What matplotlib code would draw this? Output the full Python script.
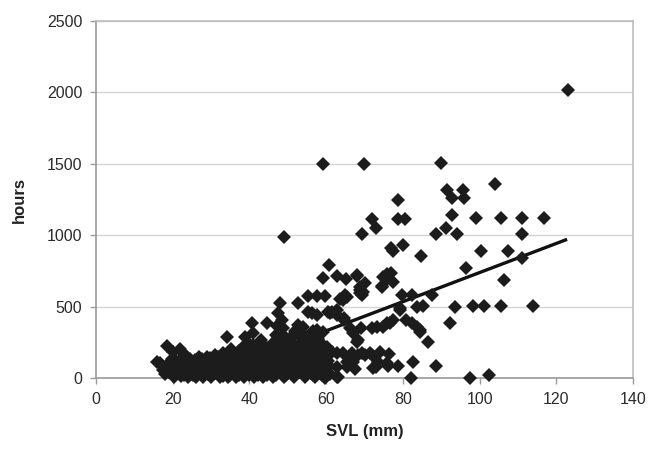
import numpy as np
import matplotlib
matplotlib.use("Agg")
import matplotlib.pyplot as plt

# (SVL mm, hours)
# dense low cluster, grouped by column of SVL
cluster_pts = [
    (15.8, 114), (16.7, 105), (17.5, 56), (18.0, 28), (18.4, 223), (18.5, 90),
    (19.0, 45), (19.8, 133), (20.0, 182), (20.2, 10), (20.5, 70), (20.8, 120),
    (21.2, 40), (21.4, 100), (21.9, 202), (22.2, 15), (22.4, 80), (22.7, 175), (22.9, 130),
    (23.3, 50), (23.5, 110), (23.8, 150), (24.1, 5), (24.3, 70), (24.6, 135),
    (25.0, 30), (25.3, 100), (25.7, 125), (26.0, 10), (26.2, 60), (26.5, 115), (26.8, 145),
    (27.1, 40), (27.4, 90), (27.7, 130), (28.0, 5), (28.3, 70), (28.6, 120), (28.8, 150),
    (29.2, 30), (29.5, 100), (29.8, 140), (30.1, 10), (30.4, 60), (30.7, 120), (30.9, 160),
    (31.3, 35), (31.6, 90), (31.9, 145), (32.2, 5), (32.5, 70), (32.8, 130), (33.0, 175),
    (33.4, 40), (33.7, 100), (34.0, 160), (34.1, 286), (34.4, 10), (34.7, 70), (34.9, 130),
    (35.2, 200), (35.5, 40), (35.8, 100), (36.1, 160), (36.4, 5), (36.7, 70), (37.0, 130),
    (37.2, 190), (37.5, 35), (37.8, 100), (38.1, 160), (38.4, 220), (38.6, 10), (38.8, 286),
    (39.0, 70), (39.3, 130), (39.6, 244), (39.8, 190), (40.1, 40), (40.4, 100), (40.7, 384),
    (40.9, 160), (41.0, 314), (41.3, 5), (41.6, 70), (41.9, 130), (42.1, 200), (42.4, 35),
    (42.8, 251), (42.9, 265), (43.0, 100), (43.3, 170), (43.6, 10), (43.9, 70), (44.2, 140),
    (44.6, 384), (44.7, 210), (45.0, 35), (45.3, 105), (45.6, 175), (45.9, 240), (46.2, 10),
    (46.5, 70), (46.8, 140), (47.0, 210), (47.2, 363), (47.4, 280), (47.5, 454), (47.7, 40),
    (48.0, 524), (48.0, 100), (48.2, 286), (48.3, 170), (48.5, 405), (48.6, 250), (48.7, 349),
    (48.9, 5), (49.2, 70), (49.5, 140), (49.8, 210), (50.1, 35), (50.4, 100), (50.6, 280),
    (50.9, 170), (51.2, 240), (51.4, 286), (51.6, 10), (51.9, 70), (52.2, 140), (52.5, 210),
    (52.7, 370), (52.7, 524), (52.9, 300), (53.2, 40), (53.5, 100), (53.8, 170), (54.0, 356),
    (54.1, 250), (54.4, 5), (54.7, 70), (55.0, 140), (55.2, 210), (55.3, 461), (55.3, 573),
    (55.5, 290), (55.8, 40), (56.1, 100), (56.3, 454), (56.5, 170), (56.8, 250), (57.0, 10),
    (57.3, 70), (57.6, 335), (57.6, 440), (57.6, 573), (57.8, 140), (58.1, 210), (58.4, 244),
    (58.6, 40), (58.9, 100), (59.2, 321), (59.4, 170), (59.7, 0), (59.7, 573), (60.0, 60),
    (60.2, 216), (60.5, 120), (60.9, 30), (61.5, 182),
]

# further overlapping points inside the solid part of the cluster
cluster_fill_pts = [
    (23.0, 20), (23.0, 90), (24.2, 55), (25.4, 20), (25.4, 90), (26.6, 55), (27.8, 20),
    (27.8, 95), (29.0, 55), (30.2, 20), (30.2, 95), (31.4, 55), (31.4, 125), (32.6, 20),
    (32.6, 100), (33.8, 55), (33.8, 125), (35.0, 20), (35.0, 95), (36.2, 55), (36.2, 150),
    (37.4, 20), (37.4, 95), (38.6, 55), (38.6, 150), (39.8, 20), (39.8, 95), (41.0, 55),
    (41.0, 150), (41.0, 230), (42.2, 20), (42.2, 95), (43.4, 55), (43.4, 150), (43.4, 210),
    (44.6, 20), (44.6, 95), (45.8, 55), (45.8, 150), (45.8, 210), (47.0, 20), (47.0, 95),
    (47.0, 300), (48.2, 55), (48.2, 150), (48.2, 210), (49.4, 20), (49.4, 95), (49.4, 280),
    (50.6, 55), (50.6, 150), (50.6, 220), (51.8, 20), (51.8, 95), (51.8, 330), (53.0, 55),
    (53.0, 150), (53.0, 220), (54.2, 20), (54.2, 95), (54.2, 300), (55.4, 55), (55.4, 150),
    (55.4, 230), (56.6, 20), (56.6, 95), (56.6, 330), (57.8, 55), (57.8, 180), (57.8, 270),
    (59.0, 20), (59.0, 95), (59.0, 240), (60.0, 150),
    (21.0, 55), (21.8, 125), (22.6, 38), (23.6, 72), (24.8, 108), (25.8, 38), (26.9, 80),
    (28.0, 40), (28.9, 108), (29.6, 72), (30.8, 38), (31.0, 100), (32.0, 72), (33.2, 108),
    (33.2, 15), (34.2, 38), (35.4, 72), (35.6, 120), (36.6, 38), (37.0, 108), (38.0, 72),
    (39.2, 38), (39.4, 108), (40.4, 72), (40.8, 128), (41.8, 38), (42.6, 108), (43.0, 72),
    (44.0, 38), (44.4, 108), (45.2, 72), (46.0, 38), (46.4, 108), (47.4, 72), (47.8, 180),
    (48.8, 38), (49.0, 120), (50.0, 72), (50.2, 190), (51.0, 38), (51.4, 120), (52.4, 72),
    (52.6, 180), (53.6, 38), (53.8, 120), (54.6, 72), (55.0, 180), (56.0, 38), (56.2, 120),
    (57.0, 72), (57.4, 200), (58.2, 38), (58.4, 120), (59.4, 72), (60.4, 90),
]

# points around the trend line, 60-115 mm
mid_pts = [
    (61.0, 175), (61.0, 454), (62.8, 175), (62.8, 7), (62.8, 77), (63.0, 7), (64.4, 175),
    (66.7, 175), (69.3, 175), (71.4, 175), (66.2, 147), (65.4, 77), (67.0, 112), (67.1, 161),
    (68.3, 161), (70.1, 161), (72.0, 161), (74.0, 182), (76.4, 168), (67.5, 63),
    (65.4, 112), (72.2, 70), (73.5, 112), (75.9, 105), (73.0, 77), (76.1, 84), (78.7, 84),
    (82.6, 112), (88.6, 84), (82.1, 0), (97.5, 0), (102.5, 21), (68.0, 251), (68.3, 265),
    (66.2, 349), (67.0, 314), (69.0, 349), (72.0, 349), (73.2, 356), (74.8, 356), (76.6, 384),
    (75.9, 384), (77.4, 405), (80.8, 405), (82.4, 384), (83.7, 356), (84.5, 335), (84.5, 321),
    (92.3, 384), (86.5, 251), (60.5, 461), (61.5, 461), (62.8, 440), (62.8, 475), (64.6, 419),
    (64.6, 405), (64.4, 545), (63.6, 552), (65.4, 566), (64.9, 580), (68.8, 594), (68.8, 614),
    (69.3, 580), (69.6, 600), (70.1, 663), (68.8, 635), (65.2, 691), (62.8, 712), (68.0, 712),
    (68.0, 719), (59.2, 698), (60.7, 789), (74.6, 635), (74.6, 642), (77.4, 670), (75.9, 691),
    (74.8, 705), (75.9, 726), (76.8, 735), (79.8, 580), (82.4, 580), (87.6, 580), (79.2, 475),
    (79.2, 489), (83.7, 496), (85.2, 503), (93.6, 496), (98.3, 503), (101.1, 503),
    (105.6, 503), (113.9, 503),
]

# sparse upper points
upper_pts = [
    (123.0, 2020), (59.2, 1500), (69.9, 1500), (89.9, 1508), (104.0, 1362), (91.5, 1315),
    (92.8, 1264), (95.7, 1320), (95.9, 1264), (78.6, 1250), (72.0, 1110), (73.0, 1047),
    (78.6, 1110), (80.6, 1110), (92.8, 1140), (91.2, 1050), (88.6, 1005), (94.1, 1005),
    (99.1, 1120), (105.6, 1120), (111.0, 1120), (116.8, 1120), (111.0, 1005), (77.4, 890),
    (77.0, 908), (80.0, 929), (84.7, 852), (100.4, 887), (107.4, 887), (111.0, 838),
    (96.5, 768), (106.4, 684), (69.3, 1006), (49.0, 985),
]

# linear trend line, end points
trend_svl = [27.6, 122.8]
trend_hours = [0, 971]

x_ticks = [0, 20, 40, 60, 80, 100, 120, 140]
y_ticks = [0, 500, 1000, 1500, 2000, 2500]

plt.rcParams["font.family"] = ["Liberation Sans", "DejaVu Sans"]

fig = plt.figure(figsize=(6.65, 4.53), dpi=100)
ax = fig.add_axes([0.1444, 0.1656, 0.8076, 0.788])

pts = np.array(cluster_pts + cluster_fill_pts + mid_pts + upper_pts)
ax.plot(pts[:, 0], pts[:, 1], linestyle="none", marker="D", markersize=6.8,
        color="#1c1c1c", markeredgewidth=0, clip_on=False, zorder=3)
# trend line sits under the markers, so it disappears inside the cluster
ax.plot(trend_svl, trend_hours, color="#111111", linewidth=2.4, zorder=2,
        solid_capstyle="butt")

ax.set_xlim(0, 140)
ax.set_ylim(0, 2500)
ax.set_xticks(x_ticks)
ax.set_yticks(y_ticks)
ax.yaxis.grid(True, color="#d4d4d4", linewidth=1.0)
ax.set_axisbelow(True)

for side in ["top", "right"]:
    ax.spines[side].set_color("#bdbdbd")
    ax.spines[side].set_linewidth(1.2)
for side in ["left", "bottom"]:
    ax.spines[side].set_color("#9a9a9a")
    ax.spines[side].set_linewidth(1.2)

ax.tick_params(axis="both", direction="out", length=4, width=1, color="#9a9a9a",
               labelsize=11.5, labelcolor="#2b2b2b", pad=6)

ax.set_xlabel("SVL (mm)", fontsize=12, fontweight="bold", color="#222222", labelpad=12)
ax.set_ylabel("hours", fontsize=12, fontweight="bold", color="#222222", labelpad=14)

fig.savefig("out.png", dpi=100)
